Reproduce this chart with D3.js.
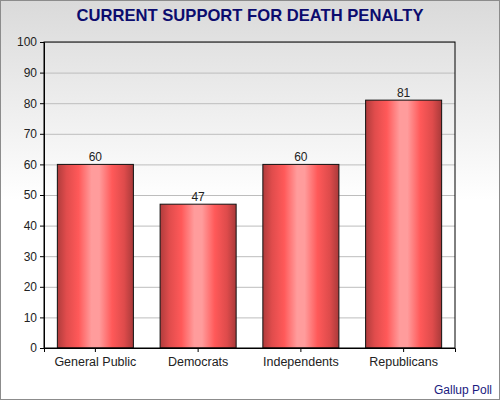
<!DOCTYPE html>
<html>
<head>
<meta charset="utf-8">
<script src="https://cdn.jsdelivr.net/npm/d3@7"></script>
<style>
  body { margin: 0; background: #fff; }
  svg text { font-family: "Liberation Sans", Arial, sans-serif; }
</style>
</head>
<body>
<div id="chart"></div>
<script>
// Chart data
const categories = ['General Public', 'Democrats', 'Independents', 'Republicans'];
const support = [60, 47, 60, 81];
const yTicks = [0, 10, 20, 30, 40, 50, 60, 70, 80, 90, 100];

const W = 500, H = 400;
const margin = { top: 42, right: 45, bottom: 52, left: 44 };
const width = W - margin.left - margin.right;
const height = H - margin.top - margin.bottom;

const svg = d3.select('#chart')
    .append('svg')
    .attr('width', W)
    .attr('height', H);

const defs = svg.append('defs');

// background fade, gray at the top to white
const bg = defs.append('linearGradient')
    .attr('id', 'bg')
    .attr('x1', 0).attr('y1', 0).attr('x2', 0).attr('y2', 1);
bg.append('stop').attr('offset', '0%').attr('stop-color', '#dadada');
bg.append('stop').attr('offset', '50%').attr('stop-color', '#ffffff');
bg.append('stop').attr('offset', '100%').attr('stop-color', '#ffffff');

// cylinder look for the bars
const barGrad = defs.append('linearGradient')
    .attr('id', 'barGrad')
    .attr('x1', 0).attr('y1', 0).attr('x2', 1).attr('y2', 0);
[
    ['0%', '#b03c3c'],
    ['12%', '#e04c4c'],
    ['28%', '#ff5959'],
    ['45%', '#ff9c9c'],
    ['55%', '#ff9c9c'],
    ['72%', '#ff5959'],
    ['88%', '#de4b4b'],
    ['100%', '#a93a3a']
].forEach(([o, c]) => barGrad.append('stop').attr('offset', o).attr('stop-color', c));

svg.append('rect')
    .attr('x', 0.5).attr('y', 0.5)
    .attr('width', W - 1).attr('height', H - 1)
    .attr('fill', 'url(#bg)')
    .attr('stroke', '#8c8c8c');

// Title
svg.append('text')
    .attr('x', W / 2)
    .attr('y', 21)
    .attr('text-anchor', 'middle')
    .style('font-size', '16.6px')
    .style('font-weight', 'bold')
    .style('fill', '#0c0c6e')
    .text('CURRENT SUPPORT FOR DEATH PENALTY');

const g = svg.append('g')
    .attr('transform', `translate(${margin.left},${margin.top})`);

// Scales
const xScale = d3.scaleBand()
    .domain(categories)
    .range([0, width])
    .paddingInner(0.26)
    .paddingOuter(0.13);

const yScale = d3.scaleLinear()
    .domain([0, 100])
    .range([height, 0]);

// Grid lines
g.append('g')
    .attr('class', 'grid')
    .call(d3.axisLeft(yScale)
        .tickValues(yTicks)
        .tickSize(-width)
        .tickFormat(''))
    .call(s => s.select('.domain').remove())
    .selectAll('line')
    .attr('stroke', '#bdbdbd');

// Bars
g.selectAll('.bar')
    .data(support)
    .enter()
    .append('rect')
    .attr('class', 'bar')
    .attr('x', (d, i) => xScale(categories[i]))
    .attr('y', d => yScale(d))
    .attr('width', xScale.bandwidth())
    .attr('height', d => height - yScale(d))
    .attr('fill', 'url(#barGrad)')
    .attr('stroke', '#111')
    .attr('stroke-width', 1);

// Value labels
g.selectAll('.val')
    .data(support)
    .enter()
    .append('text')
    .attr('class', 'val')
    .attr('x', (d, i) => xScale(categories[i]) + xScale.bandwidth() / 2)
    .attr('y', d => yScale(d) - 3)
    .attr('text-anchor', 'middle')
    .style('font-size', '12px')
    .style('fill', '#222')
    .text(d => d);

// plot frame
g.append('rect')
    .attr('width', width)
    .attr('height', height)
    .attr('fill', 'none')
    .attr('stroke', '#000')
    .attr('stroke-width', 1);

// Axes
const yAxis = g.append('g')
    .call(d3.axisLeft(yScale).tickValues(yTicks).tickSize(4).tickPadding(3));
const xAxis = g.append('g')
    .attr('transform', `translate(0,${height})`)
    .call(d3.axisBottom(xScale).tickSize(4).tickPadding(5));

yAxis.selectAll('text').style('font-size', '12px');
xAxis.selectAll('text').style('font-size', '12.5px');

[yAxis, xAxis].forEach(ax => {
    ax.select('.domain').attr('stroke', '#000');
    ax.selectAll('line').attr('stroke', '#000');
    ax.selectAll('text')
        .style('font-family', '"Liberation Sans", Arial, sans-serif')
        .style('fill', '#222');
});

// Source note
svg.append('text')
    .attr('x', 492)
    .attr('y', 394)
    .attr('text-anchor', 'end')
    .style('font-size', '12px')
    .style('fill', '#1a1a80')
    .text('Gallup Poll');
</script>
</body>
</html>
